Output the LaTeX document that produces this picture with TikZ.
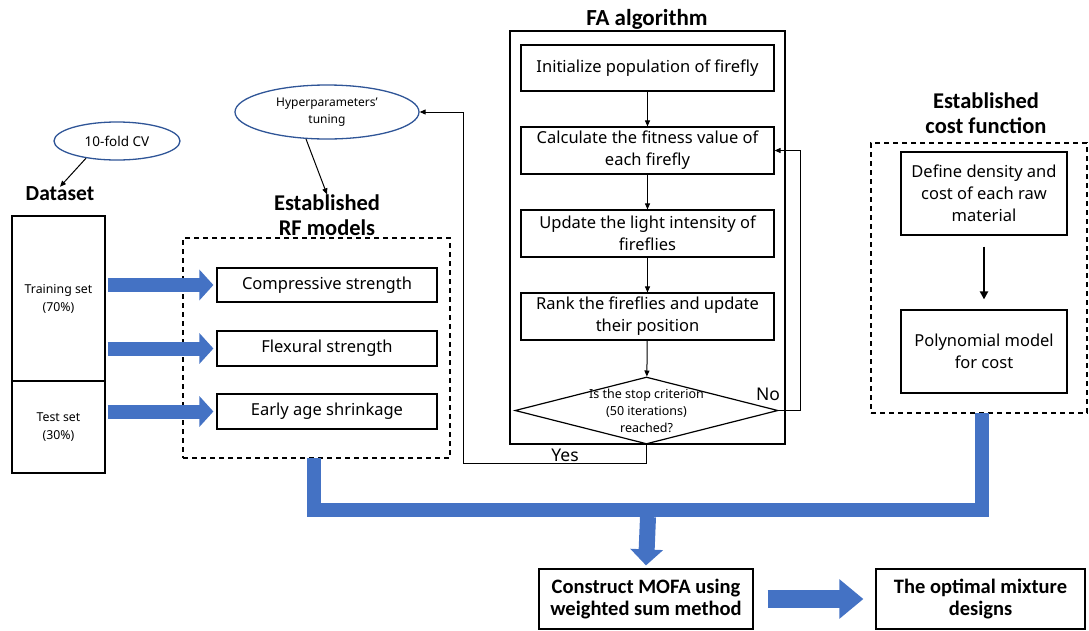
\documentclass[tikz,border=0pt]{standalone}
\usepackage{fontspec}
\setmainfont{Noto Sans}
\newfontfamily\titlefont{Carlito}
\usetikzlibrary{arrows.meta,shapes.geometric}
\definecolor{barblue}{HTML}{4472C4}
\definecolor{ellblue}{HTML}{2F5597}
\begin{document}
\begin{tikzpicture}[x=1pt,y=-1pt,
  box/.style={draw, line width=1.2pt, inner sep=0pt, align=center, font=\fontsize{16.5}{22}\selectfont},
  dbox/.style={draw, dashed, line width=1.2pt, dash pattern=on 5pt off 4pt, inner sep=0pt},
  ell/.style={draw=ellblue, ellipse, line width=1.3pt, inner sep=0pt, align=center},
  ttl/.style={align=center, font=\titlefont\bfseries\fontsize{22.5}{25}\selectfont, inner sep=0pt},
  conn/.style={draw, line width=1pt, -{Triangle[length=6pt,width=5pt]}},
  bluearrow/.style={draw=barblue, line width=14pt, -{Triangle[length=14pt,width=30pt]}},
  bluebar/.style={draw=barblue, line width=14pt, line join=miter},
]
\useasboundingbox (0,0) rectangle (1089,630);

% Dataset
\node[ell, minimum width=126pt, minimum height=38pt, font=\fontsize{13.5}{17}\selectfont] (cv) at (117,141) {10-fold CV};
\node[ttl, font=\titlefont\bfseries\fontsize{21.5}{25}\selectfont] (dstitle) at (60,194) {Dataset};
\node[box, minimum width=93pt, minimum height=165pt, font=\fontsize{12.3}{18}\selectfont] (train) at (58.5,298.5) {Training set\\(70\%)};
\node[box, minimum width=93pt, minimum height=92pt, font=\fontsize{12.3}{18}\selectfont] (test) at (58.5,427) {Test set\\(30\%)};
\draw[conn] (cv.209) -- (dstitle.north);

% RF models
\node[ell, minimum width=184pt, minimum height=54pt, font=\fontsize{12}{17}\selectfont] (hp) at (327,112) {Hyperparameters'\\tuning};
\node[ttl] (rftitle) at (327,215) {Established\\RF models};
\node[dbox, minimum width=267pt, minimum height=220pt] (rfbox) at (316.5,348) {};
\node[box, minimum width=220pt, minimum height=34pt] (cs) at (327,285) {Compressive strength};
\node[box, minimum width=220pt, minimum height=35pt] (fs) at (327,348.5) {Flexural strength};
\node[box, minimum width=220pt, minimum height=35pt] (es) at (327,411.5) {Early age shrinkage};
\draw[conn] (hp.232) -- (rftitle.north);
\draw[bluearrow] (train.east |- cs) ++(2,0) -- ([xshift=-3pt]cs.west);
\draw[bluearrow] (train.east |- fs) ++(2,0) -- ([xshift=-3pt]fs.west);
\draw[bluearrow] (test.east |- es) ++(2,0) -- ([xshift=-3pt]es.west);

% FA algorithm
\node[ttl, font=\titlefont\bfseries\fontsize{23}{25}\selectfont] (fatitle) at (647,19) {FA algorithm};
\node[draw, line width=1.2pt, minimum width=275pt, minimum height=413pt, inner sep=0pt] (fabox) at (647.5,237.5) {};
\node[box, minimum width=253pt, minimum height=46pt] (init) at (647.5,68) {Initialize population of firefly};
\node[box, minimum width=253pt, minimum height=47pt] (calc) at (647.5,150.5) {Calculate the fitness value of\\each firefly};
\node[box, minimum width=253pt, minimum height=47pt] (upd) at (647.5,233.5) {Update the light intensity of\\fireflies};
\node[box, minimum width=253pt, minimum height=47pt] (rank) at (647.5,316.5) {Rank the fireflies and update\\their position};
\node[draw, diamond, line width=1.2pt, minimum width=263pt, minimum height=67pt, inner sep=0pt] (dia) at (646.5,410.5) {};
\node[align=center, font=\fontsize{12.5}{17}\selectfont, inner sep=0pt] (diatext) at (dia.center) {Is the stop criterion\\(50 iterations)\\reached?};
\draw[conn] (init) -- (calc);
\draw[conn] (calc) -- (upd);
\draw[conn] (upd) -- (rank);
\draw[conn] (rank) -- (dia);
\coordinate (nocor) at (800,410.5);
\coordinate (yescor) at (463,463);
\draw[conn] (dia.east) -- (nocor) |- (calc.east);
\draw[conn] (dia.south) |- (yescor) |- (hp.east);
\node[font=\fontsize{17.5}{20}\selectfont, inner sep=0pt] (nolbl) at (768,394) {No};
\node[font=\fontsize{17.5}{20}\selectfont, inner sep=0pt] (yeslbl) at (565,455) {Yes};

% Cost function
\node[ttl] (costtitle) at (986,113) {Established\\cost function};
\node[dbox, minimum width=216pt, minimum height=270pt] (costbox) at (979,278) {};
\node[box, minimum width=166pt, minimum height=83pt] (dens) at (984,193.5) {Define density and\\cost of each raw\\material};
\node[box, minimum width=166pt, minimum height=83pt] (poly) at (984,351.5) {Polynomial model\\for cost};
\draw[draw, line width=2pt, -{Triangle[length=8pt,width=8pt]}] ([yshift=-11pt]dens.south) -- ([yshift=10pt]poly.north);

% Bottom
\node[box, minimum width=214pt, minimum height=60pt, font=\titlefont\bfseries\fontsize{20.5}{22}\selectfont] (mofa) at (646,599) {Construct MOFA using\\weighted sum method};
\node[box, minimum width=209pt, minimum height=60pt, font=\titlefont\bfseries\fontsize{20.5}{22}\selectfont] (opt) at (980.5,599) {The optimal mixture\\designs};
\coordinate (barl) at (314,510);
\coordinate (barr) at (982,510);
\draw[bluebar] (314,458) -- (barl) -- (barr) -- (982,413);
\draw[draw=barblue, line width=16pt, -{Triangle[length=16pt,width=32pt]}] (648,517) -- ([yshift=3pt]mofa.north);
\draw[draw=barblue, line width=18pt, -{Triangle[length=24pt,width=38pt]}] ([xshift=14pt]mofa.east) -- ([xshift=-12pt]opt.west);
\end{tikzpicture}
\end{document}
